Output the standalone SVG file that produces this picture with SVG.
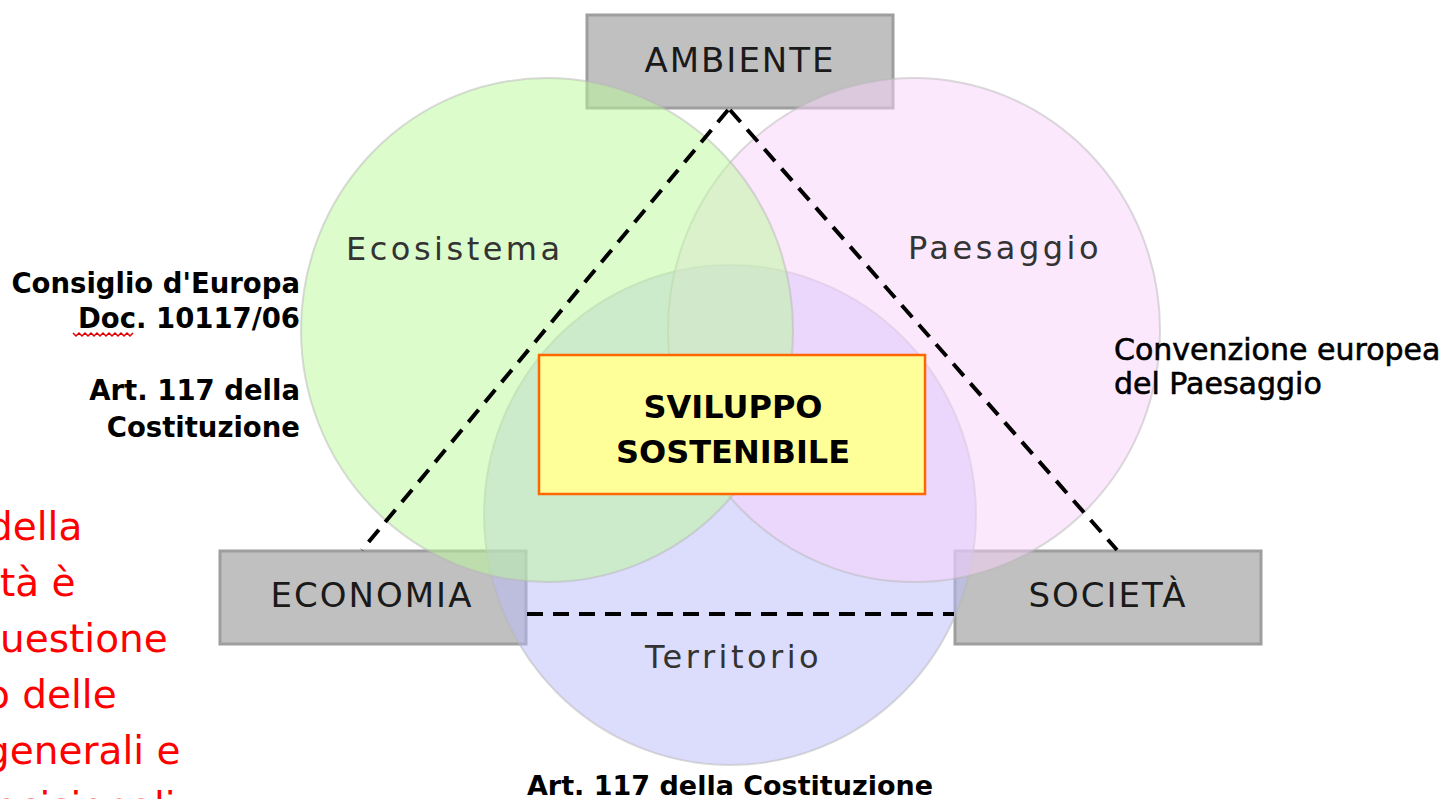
<svg xmlns="http://www.w3.org/2000/svg" width="1448" height="799" viewBox="0 0 1448 799">
<style>
.box{fill:#c0c0c0;stroke:#9e9e9e;stroke-width:3}
.boxtxt{font-family:"DejaVu Sans",Verdana,sans-serif;font-size:34px;fill:#1a1a1a;letter-spacing:2px;text-anchor:middle}
.circ{stroke:#b8b8b8;stroke-opacity:0.5;stroke-width:2;fill-opacity:0.5}
.clab{font-family:"DejaVu Sans",Verdana,sans-serif;font-size:32px;fill:#333;letter-spacing:3.5px}
.dash{fill:none;stroke:#000;stroke-width:4;stroke-dasharray:16 10}
.note{font-family:"DejaVu Sans",Verdana,sans-serif;font-weight:bold;font-size:27.5px;fill:#000}
.big{font-family:"DejaVu Sans",Verdana,sans-serif;font-weight:bold;font-size:32px;fill:#000;text-anchor:middle}
.conv{font-family:"DejaVu Sans",Verdana,sans-serif;font-size:30px;fill:#000;stroke:#000;stroke-width:0.6}
.red{font-family:"DejaVu Sans",Verdana,sans-serif;font-size:39px;fill:#ff0000}
</style>
<rect width="1448" height="799" fill="#fff"/>
<g id="node-ambiente">
<rect class="box" x="587" y="15" width="306" height="93"/>
<text class="boxtxt" x="740" y="72">AMBIENTE</text>
</g>
<g id="node-economia">
<rect class="box" x="220" y="551" width="306" height="93"/>
<text class="boxtxt" x="372" y="607">ECONOMIA</text>
</g>
<g id="node-societa">
<rect class="box" x="955" y="551" width="306" height="93"/>
<text class="boxtxt" x="1108" y="607">SOCIETÀ</text>
</g>
<g id="node-territorio">
<ellipse class="circ" cx="730" cy="515" rx="246" ry="250" fill="#b9b9f9"/>
</g>
<g id="node-paesaggio">
<ellipse class="circ" cx="914" cy="330" rx="246" ry="252" fill="#f9d1f9"/>
</g>
<g id="node-ecosistema">
<ellipse class="circ" cx="547" cy="330" rx="246" ry="252" fill="#b9f999"/>
</g>
<g id="circle-labels">
<text class="clab" x="346" y="260">Ecosistema</text>
<text class="clab" x="908" y="259">Paesaggio</text>
<text class="clab" x="645" y="668">Territorio</text>
</g>
<g id="connectors">
<line class="dash" x1="728" y1="110" x2="362" y2="550"/>
<line class="dash" x1="730" y1="110" x2="1117" y2="550"/>
<line class="dash" x1="527" y1="614" x2="954" y2="614"/>
</g>
<g id="node-sviluppo">
<rect x="539" y="355" width="386" height="139" fill="#ffff99" stroke="#ff6600" stroke-width="2.5"/>
<text class="big" x="733" y="418">SVILUPPO</text>
<text class="big" x="733" y="463">SOSTENIBILE</text>
</g>
<g id="notes">
<text class="note" x="300" y="293" text-anchor="end">Consiglio d'Europa</text>
<text class="note" x="300" y="328" text-anchor="end">Doc. 10117/06</text>
<path d="M73 333 l3 3 l3 -3 l3 3 l3 -3 l3 3 l3 -3 l3 3 l3 -3 l3 3 l3 -3 l3 3 l3 -3 l3 3 l3 -3 l3 3 l3 -3 l3 3 l3 -3 l3 3 l3 -3" fill="none" stroke="#e00000" stroke-width="1.5"/>
<text class="note" x="300" y="400" text-anchor="end">Art. 117 della</text>
<text class="note" x="300" y="437" text-anchor="end">Costituzione</text>
<text class="conv" x="1114" y="360">Convenzione europea</text>
<text class="conv" x="1114" y="394">del Paesaggio</text>
<text class="note" x="730" y="795" text-anchor="middle" style="font-size:27px">Art. 117 della Costituzione</text>
</g>
<g id="red-text">
<text class="red" x="-12" y="540">della</text>
<text class="red" x="0" y="596">tà è</text>
<text class="red" x="0" y="652">uestione</text>
<text class="red" x="-14" y="708">o delle</text>
<text class="red" x="-15" y="764">generali e</text>
<text class="red" x="-6" y="820">ecisionali</text>
</g>
</svg>
